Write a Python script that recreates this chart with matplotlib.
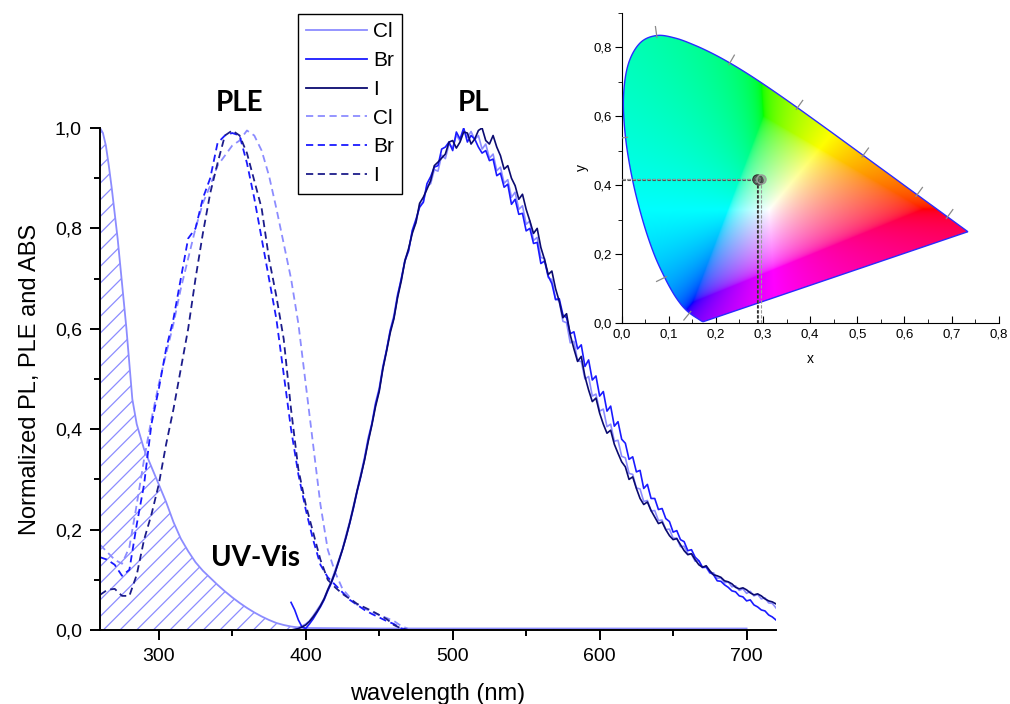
import numpy as np
import matplotlib
matplotlib.use("Agg")
import matplotlib.pyplot as plt
from matplotlib.patches import Polygon
from matplotlib.ticker import MultipleLocator, FuncFormatter
from matplotlib.lines import Line2D

plt.rcParams['font.family'] = ['Liberation Sans', 'DejaVu Sans']
plt.rcParams['hatch.linewidth'] = 0.9

# ---------------- data ----------------
halides = ["Cl", "Br", "I"]
colors = ["#8c8cff", "#1a1aff", "#0a0a70"]
dash_colors = ["#8c8cff", "#1a1aff", "#1c1c8a"]

# UV-Vis absorption (Cl)
abs_wl = [260, 262, 264, 266, 268, 270, 272, 275, 278, 280, 282, 285, 290, 295,
          300, 305, 310, 315, 320, 325, 330, 335, 340, 345, 350, 355, 360, 365,
          370, 375, 380, 385, 390, 395, 400, 450, 500, 550, 600, 650, 700]
abs_cl = [1.000, 0.990, 0.965, 0.925, 0.880, 0.830, 0.780, 0.690, 0.600, 0.530,
          0.460, 0.410, 0.360, 0.325, 0.290, 0.255, 0.215, 0.182, 0.157, 0.135,
          0.118, 0.104, 0.090, 0.077, 0.065, 0.054, 0.044, 0.035, 0.027, 0.020,
          0.014, 0.010, 0.007, 0.005, 0.004, 0.003, 0.003, 0.003, 0.003, 0.003,
          0.003]

# PLE spectra
ple_wl = list(range(260, 475, 5))
ple_cl = [0.170, 0.155, 0.140, 0.132, 0.165, 0.250, 0.340, 0.420, 0.490, 0.550,
          0.610, 0.680, 0.740, 0.800, 0.850, 0.885, 0.925, 0.945, 0.965, 0.975,
          0.995, 0.985, 0.955, 0.905, 0.840, 0.770, 0.700, 0.610, 0.490, 0.370,
          0.250, 0.160, 0.115, 0.082, 0.065, 0.050, 0.043, 0.036, 0.030, 0.024,
          0.018, 0.008, 0.002]
ple_br = [0.145, 0.140, 0.130, 0.108, 0.120, 0.210, 0.290, 0.410, 0.480, 0.560,
          0.620, 0.700, 0.780, 0.800, 0.860, 0.900, 0.970, 0.985, 0.990, 0.985,
          0.930, 0.860, 0.780, 0.700, 0.620, 0.510, 0.400, 0.310, 0.240, 0.180,
          0.130, 0.105, 0.090, 0.075, 0.060, 0.050, 0.040, 0.032, 0.025, 0.018,
          0.012, 0.003, 0.000]
ple_i = [0.070, 0.080, 0.082, 0.068, 0.068, 0.110, 0.180, 0.230, 0.290, 0.370,
         0.440, 0.520, 0.600, 0.700, 0.790, 0.870, 0.930, 0.985, 0.995, 0.985,
         0.950, 0.895, 0.840, 0.740, 0.665, 0.580, 0.440, 0.320, 0.250, 0.195,
         0.140, 0.100, 0.085, 0.072, 0.062, 0.052, 0.045, 0.038, 0.030, 0.022,
         0.010, 0.003, 0.000]

# PL spectra, 390-720 nm in 2.5 nm steps
pl_wl = np.arange(390, 720.1, 2.5)
pl_cl = [0.000, 0.002, 0.005, 0.008, 0.012, 0.018, 0.028, 0.039, 0.050, 0.063,
         0.081, 0.098, 0.119, 0.140, 0.162, 0.190, 0.217, 0.248, 0.279, 0.312,
         0.344, 0.383, 0.412, 0.453, 0.482, 0.526, 0.557, 0.598, 0.627, 0.669,
         0.697, 0.738, 0.757, 0.794, 0.811, 0.847, 0.852, 0.884, 0.889, 0.917,
         0.914, 0.946, 0.939, 0.968, 0.961, 0.986, 0.974, 0.996, 0.981, 0.993,
         0.977, 0.985, 0.958, 0.968, 0.940, 0.948, 0.915, 0.922, 0.890, 0.897,
         0.862, 0.872, 0.838, 0.845, 0.808, 0.815, 0.776, 0.782, 0.742, 0.740,
         0.702, 0.698, 0.660, 0.655, 0.615, 0.612, 0.572, 0.575, 0.536, 0.535,
         0.500, 0.505, 0.466, 0.470, 0.436, 0.440, 0.405, 0.410, 0.376, 0.378,
         0.346, 0.343, 0.312, 0.310, 0.283, 0.281, 0.256, 0.258, 0.237, 0.238,
         0.218, 0.219, 0.200, 0.201, 0.183, 0.183, 0.166, 0.167, 0.152, 0.151,
         0.137, 0.138, 0.124, 0.125, 0.113, 0.114, 0.103, 0.104, 0.094, 0.096,
         0.086, 0.088, 0.079, 0.082, 0.073, 0.077, 0.068, 0.071, 0.062, 0.064,
         0.054, 0.053, 0.044]
pl_br = [0.055, 0.040, 0.020, 0.006, 0.003, 0.012, 0.022, 0.034, 0.046, 0.060,
         0.078, 0.094, 0.114, 0.136, 0.160, 0.185, 0.213, 0.243, 0.276, 0.306,
         0.340, 0.378, 0.410, 0.449, 0.478, 0.522, 0.558, 0.596, 0.622, 0.665,
         0.700, 0.735, 0.755, 0.796, 0.818, 0.842, 0.852, 0.889, 0.903, 0.922,
         0.925, 0.958, 0.962, 0.972, 0.955, 0.992, 0.978, 1.000, 0.972, 0.985,
         0.978, 0.962, 0.950, 0.955, 0.935, 0.938, 0.905, 0.910, 0.882, 0.888,
         0.848, 0.858, 0.828, 0.830, 0.795, 0.800, 0.770, 0.772, 0.730, 0.735,
         0.705, 0.690, 0.658, 0.660, 0.628, 0.622, 0.590, 0.594, 0.560, 0.568,
         0.525, 0.538, 0.498, 0.506, 0.466, 0.475, 0.436, 0.446, 0.406, 0.415,
         0.380, 0.372, 0.340, 0.345, 0.315, 0.318, 0.282, 0.290, 0.262, 0.262,
         0.240, 0.242, 0.222, 0.216, 0.195, 0.198, 0.180, 0.176, 0.158, 0.160,
         0.145, 0.138, 0.125, 0.126, 0.115, 0.110, 0.098, 0.097, 0.090, 0.085,
         0.078, 0.076, 0.068, 0.066, 0.058, 0.060, 0.050, 0.046, 0.040, 0.038,
         0.030, 0.026, 0.020]
pl_i = [0.000, 0.001, 0.003, 0.006, 0.010, 0.017, 0.026, 0.036, 0.048, 0.062,
        0.080, 0.096, 0.115, 0.138, 0.160, 0.186, 0.214, 0.245, 0.278, 0.307,
        0.338, 0.375, 0.408, 0.445, 0.475, 0.520, 0.555, 0.592, 0.620, 0.662,
        0.695, 0.735, 0.760, 0.790, 0.812, 0.850, 0.862, 0.878, 0.895, 0.925,
        0.932, 0.940, 0.948, 0.972, 0.975, 0.960, 0.972, 0.992, 0.990, 0.968,
        0.978, 0.995, 1.000, 0.975, 0.968, 0.985, 0.962, 0.945, 0.918, 0.925,
        0.900, 0.885, 0.858, 0.868, 0.838, 0.815, 0.790, 0.800, 0.762, 0.738,
        0.708, 0.715, 0.680, 0.655, 0.622, 0.630, 0.588, 0.560, 0.535, 0.545,
        0.505, 0.478, 0.455, 0.462, 0.432, 0.410, 0.392, 0.398, 0.370, 0.352,
        0.335, 0.325, 0.300, 0.305, 0.282, 0.262, 0.250, 0.255, 0.238, 0.225,
        0.212, 0.215, 0.200, 0.188, 0.180, 0.182, 0.170, 0.158, 0.150, 0.152,
        0.140, 0.130, 0.125, 0.128, 0.118, 0.110, 0.108, 0.105, 0.098, 0.096,
        0.092, 0.085, 0.082, 0.084, 0.080, 0.074, 0.070, 0.072, 0.068, 0.062,
        0.058, 0.056, 0.052]

# CIE 1931 spectral locus (2 deg observer)
locus_wl = [380, 385, 390, 395, 400, 405, 410, 415, 420, 425, 430, 435, 440,
            445, 450, 455, 460, 465, 470, 475, 480, 485, 490, 495, 500, 505,
            510, 515, 520, 525, 530, 535, 540, 545, 550, 555, 560, 565, 570,
            575, 580, 585, 590, 595, 600, 605, 610, 615, 620, 625, 630, 635,
            640, 645, 650, 655, 660, 665, 670, 675, 680, 700]
locus_x = [0.1741, 0.1740, 0.1738, 0.1736, 0.1733, 0.1730, 0.1726, 0.1721,
           0.1714, 0.1703, 0.1689, 0.1669, 0.1644, 0.1611, 0.1566, 0.1510,
           0.1440, 0.1355, 0.1241, 0.1096, 0.0913, 0.0687, 0.0454, 0.0235,
           0.0082, 0.0039, 0.0139, 0.0389, 0.0743, 0.1142, 0.1547, 0.1929,
           0.2296, 0.2658, 0.3016, 0.3373, 0.3731, 0.4087, 0.4441, 0.4788,
           0.5125, 0.5448, 0.5752, 0.6029, 0.6270, 0.6482, 0.6658, 0.6801,
           0.6915, 0.7006, 0.7079, 0.7140, 0.7190, 0.7230, 0.7260, 0.7283,
           0.7300, 0.7311, 0.7320, 0.7327, 0.7334, 0.7347]
locus_y = [0.0050, 0.0050, 0.0049, 0.0049, 0.0048, 0.0048, 0.0048, 0.0048,
           0.0051, 0.0058, 0.0069, 0.0086, 0.0109, 0.0138, 0.0177, 0.0227,
           0.0297, 0.0399, 0.0578, 0.0868, 0.1327, 0.2007, 0.2950, 0.4127,
           0.5384, 0.6548, 0.7502, 0.8120, 0.8338, 0.8262, 0.8059, 0.7816,
           0.7543, 0.7243, 0.6923, 0.6589, 0.6245, 0.5896, 0.5547, 0.5202,
           0.4866, 0.4544, 0.4242, 0.3965, 0.3725, 0.3514, 0.3340, 0.3197,
           0.3083, 0.2993, 0.2920, 0.2859, 0.2809, 0.2770, 0.2740, 0.2717,
           0.2700, 0.2689, 0.2680, 0.2673, 0.2666, 0.2653]
locus_marks = [460, 480, 500, 520, 540, 560, 580, 600, 620]

# chromaticity of the emission
cie_x = [0.287, 0.289, 0.296]
cie_y = [0.417, 0.416, 0.418]
cie_colors = ["#303030", "#505050", "#9a9a9a"]


def catmull_rom(xs, ys, steps=10):
    """Smooth open path through the given points."""
    p = np.column_stack([xs, ys])
    p = np.vstack([p[0], p, p[-1]])
    out = []
    t = np.linspace(0, 1, steps, endpoint=False)[:, None]
    for i in range(1, len(p) - 2):
        p0, p1, p2, p3 = p[i - 1], p[i], p[i + 1], p[i + 2]
        seg = 0.5 * ((2 * p1) + (-p0 + p2) * t
                     + (2 * p0 - 5 * p1 + 4 * p2 - p3) * t ** 2
                     + (-p0 + 3 * p1 - 3 * p2 + p3) * t ** 3)
        out.append(seg)
    out.append(p[-2][None, :])
    return np.vstack(out)


# ---------------- figure ----------------
fig = plt.figure(figsize=(10.1, 7.04), dpi=100)
ax = fig.add_axes([0.0990, 0.1051, 0.6693, 0.7131])

comma = FuncFormatter(lambda v, p: f"{v:.1f}".replace(".", ","))

# UV-Vis with hatched area
ax.fill_between(abs_wl, abs_cl, 0, facecolor="none", edgecolor=colors[0],
                hatch="//", linewidth=0)
ax.plot([abs_wl[0]] + abs_wl, [0] + abs_cl, color=colors[0], lw=1.3)

for vals, c in zip([ple_cl, ple_br, ple_i], dash_colors):
    ax.plot(ple_wl, vals, color=c, lw=1.3, ls=(0, (4, 2.5)))

for vals, c in zip([pl_cl, pl_br, pl_i], colors):
    ax.plot(pl_wl, vals, color=c, lw=1.2)

ax.set_xlim(260, 720)
ax.set_ylim(0, 1.0)
for s in ("top", "right"):
    ax.spines[s].set_visible(False)
for s in ("left", "bottom"):
    ax.spines[s].set_linewidth(1.4)
ax.xaxis.set_major_locator(MultipleLocator(100))
ax.xaxis.set_minor_locator(MultipleLocator(50))
ax.yaxis.set_major_locator(MultipleLocator(0.2))
ax.yaxis.set_minor_locator(MultipleLocator(0.1))
ax.yaxis.set_major_formatter(comma)
ax.tick_params(which="major", direction="out", length=7, width=1.4, labelsize=14, pad=6)
ax.tick_params(which="minor", direction="out", length=4, width=1.4)
ax.set_xlabel("wavelength (nm)", fontsize=17, labelpad=13)
ax.set_ylabel("Normalized PL, PLE and ABS", fontsize=17, labelpad=10)

bold = dict(fontsize=20, fontweight="bold", family=["Lato", "DejaVu Sans"],
            ha="center", va="center", clip_on=False)
ax.text(355, 1.05, "PLE", **bold)
ax.text(514, 1.05, "PL", **bold)
ax.text(366, 0.143, "UV-Vis", **bold)

handles = [Line2D([], [], color=c, lw=1.3) for c in colors] + \
          [Line2D([], [], color=c, lw=1.3, ls=(0, (4, 2.5))) for c in dash_colors]
leg = fig.legend(handles, halides + halides, loc="upper left",
                 bbox_to_anchor=(298 / 1010, 1 - 14 / 704), fontsize=15,
                 frameon=True, fancybox=False, framealpha=1, edgecolor="black",
                 handlelength=2.9, handletextpad=0.3, labelspacing=0.47,
                 borderpad=0.4, borderaxespad=0)
leg.get_frame().set_linewidth(1.0)

# ---------------- CIE inset ----------------
ins_w_px = 377.0
ins = fig.add_axes([0.6155, 0.5408, ins_w_px / 1010, 0.4412])
ins.set_xlim(0, 0.8)
ins.set_ylim(0, 0.9)

nx, ny = 640, 720
gx = np.linspace(0, 0.8, nx)
gy = np.linspace(0.0005, 0.9, ny)
X2, Y2 = np.meshgrid(gx, gy)
Xc = X2 / Y2
Zc = (1 - X2 - Y2) / Y2
R = 3.2406 * Xc - 1.5372 - 0.4986 * Zc
G = -0.9689 * Xc + 1.8758 + 0.0415 * Zc
B = 0.0557 * Xc - 0.2040 + 1.0570 * Zc
rgb = np.dstack([R, G, B])
# desaturate out-of-gamut colours by adding white, then normalise brightness
rgb = rgb - np.minimum(rgb.min(axis=2, keepdims=True), 0)
rgb = rgb / rgb.max(axis=2, keepdims=True)
rgb = np.where(rgb <= 0.0031308, 12.92 * rgb, 1.055 * rgb ** (1 / 2.4) - 0.055)
rgb = np.clip(rgb, 0, 1)

verts = catmull_rom(locus_x, locus_y)
poly = Polygon(verts, closed=True, facecolor="none", edgecolor="#2a2aff", lw=1.0, zorder=3)
ins.add_patch(poly)
img = ins.imshow(rgb, extent=[0, 0.8, 0.0005, 0.9], origin="lower",
                 aspect="auto", interpolation="bilinear", zorder=2)
img.set_clip_path(poly)

# wavelength marks on the locus
ppu_x = ins_w_px / 0.8
ppu_y = 310.6 / 0.9
for wl in locus_marks:
    k = locus_wl.index(wl)
    dx = (locus_x[k + 1] - locus_x[k - 1]) * ppu_x
    dy = (locus_y[k + 1] - locus_y[k - 1]) * ppu_y
    n = np.hypot(dx, dy)
    nxp, nyp = -dy / n, dx / n
    x0 = locus_x[k] - 2 * nxp / ppu_x
    y0 = locus_y[k] - 2 * nyp / ppu_y
    x1 = locus_x[k] + 9 * nxp / ppu_x
    y1 = locus_y[k] + 9 * nyp / ppu_y
    ins.plot([x0, x1], [y0, y1], color="#8a8a8a", lw=0.9, zorder=4)

for x, y, c in zip(cie_x, cie_y, cie_colors):
    ins.plot([0, x], [y, y], color=c, lw=0.8, ls=(0, (3, 1.5)), zorder=5)
    ins.plot([x, x], [0, y], color=c, lw=0.8, ls=(0, (3, 1.5)), zorder=5)
    ins.plot([x], [y], marker="o", ms=6.5, mfc=(0.3, 0.3, 0.3, 0.35), mec=c,
             mew=1.0, zorder=6)

for s in ("top", "right"):
    ins.spines[s].set_visible(False)
ins.xaxis.set_major_locator(MultipleLocator(0.1))
ins.xaxis.set_minor_locator(MultipleLocator(0.05))
ins.yaxis.set_major_locator(MultipleLocator(0.2))
ins.yaxis.set_minor_locator(MultipleLocator(0.1))
ins.xaxis.set_major_formatter(comma)
ins.yaxis.set_major_formatter(comma)
ins.tick_params(axis="x", which="major", direction="in", length=5, labelsize=9.5, pad=4)
ins.tick_params(axis="x", which="minor", direction="in", length=3)
ins.tick_params(axis="y", which="major", direction="out", length=5, labelsize=9.5, pad=2)
ins.tick_params(axis="y", which="minor", direction="out", length=3)
ins.set_xlabel("x", fontsize=10, labelpad=8)
ins.set_ylabel("y", fontsize=10, labelpad=3)

fig.savefig("out.png", dpi=100)
